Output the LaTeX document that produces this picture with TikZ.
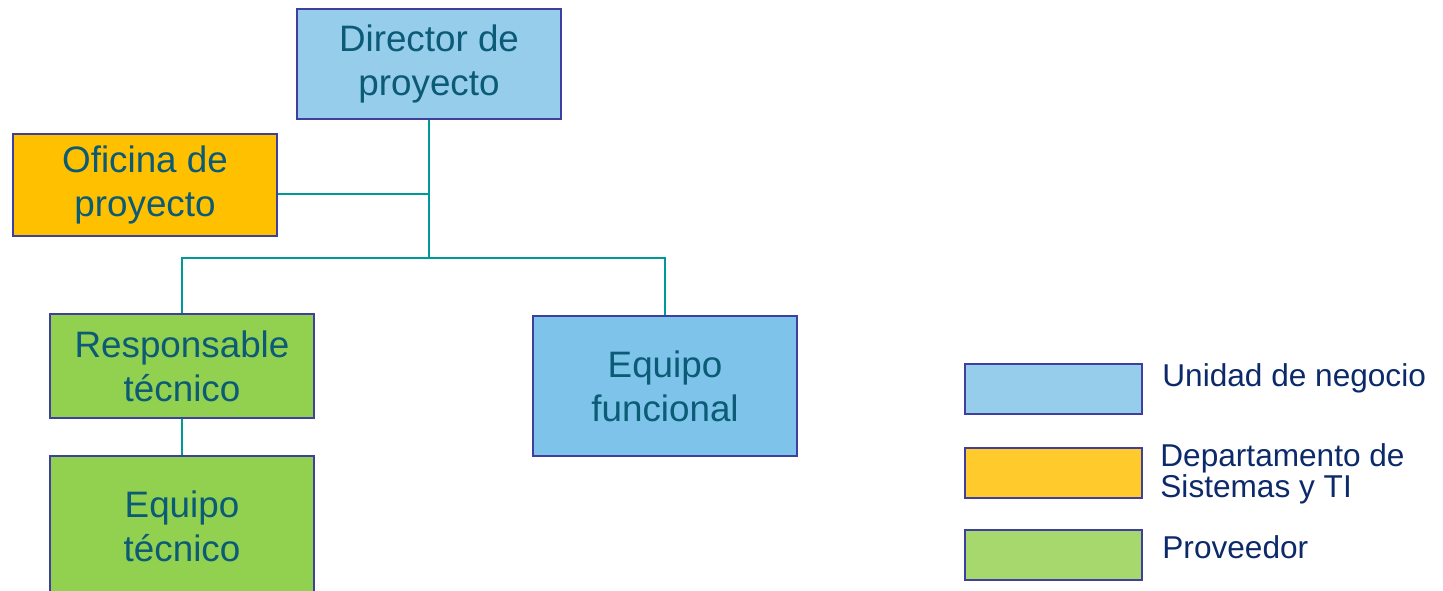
\documentclass[tikz,border=0pt]{standalone}
\usepackage{fontspec}
\setmainfont{Liberation Sans}
\definecolor{azulclaro}{HTML}{95CDEB}
\definecolor{azulmedio}{HTML}{7DC3EA}
\definecolor{naranja}{HTML}{FFC000}
\definecolor{naranjaley}{HTML}{FFCA2C}
\definecolor{verde}{HTML}{92D050}
\definecolor{verdeley}{HTML}{A6D86E}
\definecolor{borde}{HTML}{3F3F9F}
\definecolor{enlace}{HTML}{009999}
\definecolor{textocaja}{HTML}{0B5A76}
\definecolor{textoley}{HTML}{0C2A6A}
\tikzset{
  cargo/.style={draw=borde, line width=1pt, minimum width=132pt, minimum height=55pt,
    inner sep=0pt, align=center, text=textocaja, font=\fontsize{18.4}{22}\selectfont},
  muestra/.style={draw=borde, line width=1pt, minimum width=88.5pt, minimum height=25pt, inner sep=0pt},
  leyenda/.style={anchor=west, inner sep=0pt, align=left, text=textoley, font=\fontsize{15.8}{13.5}\selectfont},
  enlace/.style={draw=enlace, line width=0.9pt}
}
\begin{document}
\begin{tikzpicture}[x=0.5pt,y=-0.5pt]
  \useasboundingbox (0,0) rectangle (1443,590);
  % cajas del organigrama
  \node[cargo, fill=azulclaro] (dir) at (429,64) {Director de\\proyecto};
  \node[cargo, fill=naranja, minimum height=51pt] (ofi) at (145,185) {Oficina de\\proyecto};
  \node[cargo, fill=verde, minimum height=52pt] (resp) at (182,366) {Responsable\\técnico};
  \node[cargo, fill=verde, minimum height=70pt] (tec) at (182,526) {Equipo\\técnico};
  \node[cargo, fill=azulmedio, minimum height=70pt] (func) at (665,386) {Equipo\\funcional};
  % conexiones
  \coordinate (rama) at (429,258);
  \draw[enlace] (dir.south) -- (rama);
  \draw[enlace] ([yshift=-4.5pt]ofi.east) -- ([yshift=-4.5pt]ofi.east -| dir.south);
  \draw[enlace] (resp.north) |- (rama) -| (func.north);
  \draw[enlace] (resp.south) -- (tec.north);
  % leyenda
  \node[muestra, fill=azulclaro] (ley1) at (1053.5,389) {};
  \node[muestra, fill=naranjaley] (ley2) at (1053.5,472.5) {};
  \node[muestra, fill=verdeley] (ley3) at (1053.5,555) {};
  \node[leyenda] (txt1) at (1162,378) {Unidad de negocio};
  \node[leyenda] (txt2) at (1160,474) {Departamento de\\Sistemas y TI};
  \node[leyenda] (txt3) at (1162,547) {Proveedor};
\end{tikzpicture}
\end{document}
